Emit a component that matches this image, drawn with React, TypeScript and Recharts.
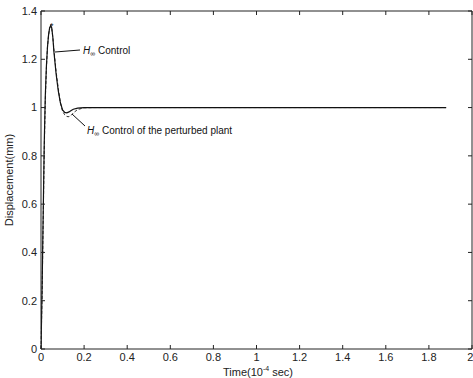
import React from 'react';
import { LineChart, Line, XAxis, YAxis } from 'recharts';

// time samples (10^-4 sec) — dense near the transient
const times = [0, 0.005, 0.01, 0.015, 0.02, 0.025, 0.03, 0.035, 0.04, 0.045, 0.05, 0.055, 0.06, 0.07, 0.08, 0.09, 0.1, 0.11, 0.12, 0.13, 0.14, 0.15, 0.17, 0.2, 0.25, 0.3, 0.5, 0.8, 1.2, 1.5, 1.88];
const hinfControl = [0, 0.25, 0.55, 0.85, 1.05, 1.17, 1.25, 1.3, 1.33, 1.34, 1.33, 1.29, 1.23, 1.14, 1.07, 1.02, 0.99, 0.98, 0.978, 0.982, 0.988, 0.993, 0.998, 1.0, 1.0, 1.0, 1.0, 1.0, 1.0, 1.0, 1.0];
const hinfPerturbed = [0, 0.22, 0.52, 0.82, 1.03, 1.16, 1.25, 1.3, 1.33, 1.335, 1.325, 1.29, 1.24, 1.15, 1.08, 1.02, 0.985, 0.97, 0.963, 0.962, 0.968, 0.978, 0.992, 0.999, 1.0, 1.0, 1.0, 1.0, 1.0, 1.0, 1.0];

const xTicks = [0, 0.2, 0.4, 0.6, 0.8, 1, 1.2, 1.4, 1.6, 1.8, 2];
const yTicks = [0, 0.2, 0.4, 0.6, 0.8, 1, 1.2, 1.4];

const data = times.map((t, i) => ({ t, nominal: hinfControl[i], perturbed: hinfPerturbed[i] }));

const font = '"Liberation Sans", Arial, sans-serif';
const tickStyle = { fill: '#222', fontSize: 11, fontFamily: font };

export default function App() {
  return (
    <div style={{ position: 'absolute', left: 0, top: 0, width: 473, height: 378, background: '#fff' }}>
      <LineChart width={473} height={378} data={data} margin={{ top: 10, right: 0, left: 10, bottom: 9 }}>
        <XAxis
          dataKey="t"
          type="number"
          domain={[0, 2]}
          ticks={xTicks}
          allowDataOverflow
          height={20}
          tickSize={-4}
          tickMargin={8}
          stroke="#222"
          tick={tickStyle}
        />
        <XAxis xAxisId="top" orientation="top" dataKey="t" type="number" domain={[0, 2]} ticks={xTicks}
          height={1} tickSize={-4} tickFormatter={() => ''} stroke="#222" />
        <YAxis
          type="number"
          domain={[0, 1.4]}
          ticks={yTicks}
          width={31}
          tickSize={-4}
          tickMargin={8}
          stroke="#222"
          tick={tickStyle}
        />
        <YAxis yAxisId="right" orientation="right" type="number" domain={[0, 1.4]} ticks={yTicks}
          width={1} tickSize={-4} tickFormatter={() => ''} stroke="#222" />
        <Line xAxisId="top" yAxisId="right" type="linear" dataKey="perturbed" stroke="#333" strokeWidth={1} strokeDasharray="3 2" dot={false} isAnimationActive={false} />
        <Line type="linear" dataKey="nominal" stroke="#111" strokeWidth={1.2} dot={false} isAnimationActive={false} />
      </LineChart>
      <svg width={473} height={378} style={{ position: 'absolute', left: 0, top: 0, pointerEvents: 'none' }}>
        <text x={50} y={29} fontSize={9} fontFamily={font} fill="#111">*</text>
        <line x1={55} y1={52} x2={80} y2={50} stroke="#111" strokeWidth={1} />
        <text x={83} y={54} fontSize={10} fontFamily={font} fill="#111">
          <tspan fontStyle="italic">H</tspan><tspan fontSize={7} dy={2}>∞</tspan><tspan dy={-2}> Control</tspan>
        </text>
        <line x1={72} y1={114} x2={85} y2={126} stroke="#111" strokeWidth={1} />
        <text x={87} y={134} fontSize={10} fontFamily={font} fill="#111">
          <tspan fontStyle="italic">H</tspan><tspan fontSize={7} dy={2}>∞</tspan><tspan dy={-2}> Control of the perturbed plant</tspan>
        </text>
        <text x={13} y={180} fontSize={11} fontFamily={font} fill="#222" textAnchor="middle" transform="rotate(-90 13 180)">Displacement(mm)</text>
        <text x={258} y={376} fontSize={11} fontFamily={font} fill="#222" textAnchor="middle">
          Time(10<tspan fontSize={7} dy={-5}>-4</tspan><tspan dy={5}> sec)</tspan>
        </text>
      </svg>
    </div>
  );
}
